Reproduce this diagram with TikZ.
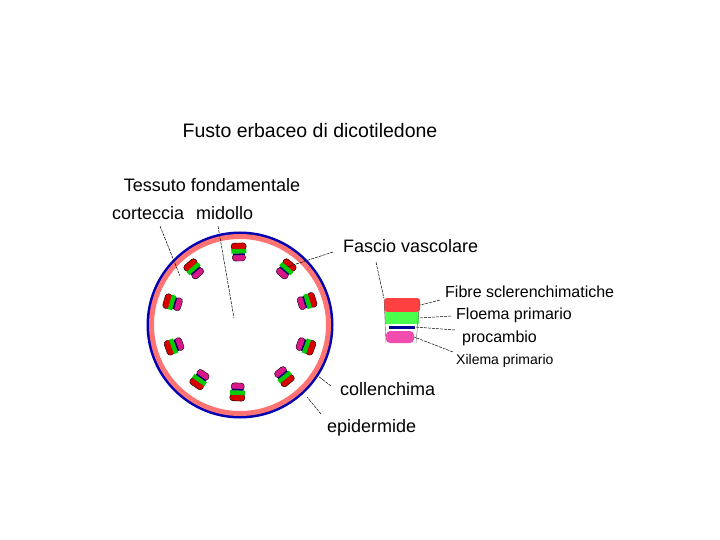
\documentclass[tikz,border=0pt]{standalone}
\usepackage{fontspec}
\setmainfont{Liberation Sans}
\begin{document}
\begin{tikzpicture}[x=1pt,y=-1pt,
  lbl/.style={font=\fontsize{18}{20}\selectfont,inner sep=0pt},
  lead/.style={black,line width=0.5pt,dash pattern=on 3pt off 1pt},
  red/.style={fill=red!85!black}, grn/.style={fill=green!80!black}, mag/.style={fill=magenta!80!violet}]
\useasboundingbox (0,0) rectangle (720,540);
% stem
\draw[blue!70!black,line width=3pt] (240,325) circle (92);
\draw[red!55!white,line width=5pt] (240,325) circle (88.5);
% bundles
\foreach \a in {92,51,20,-17,-49,-91,-131,-164,160,125}{
  \begin{scope}[shift={(240,322)},rotate=-\a]
   \begin{scope}[shift={(70,0)}]
    \draw[black,line width=0.4pt,mag,rounded corners=3pt] (-9,-6.5) rectangle (-2,6.5);
    \draw[black,line width=0.4pt,red,rounded corners=3pt] (2,-7.5) rectangle (9,7.5);
    \fill[grn] (-1.5,-7.5) rectangle (3,7.5);
    \fill[blue!40!black] (-3,-6) rectangle (-1.5,6);
   \end{scope}
  \end{scope}}
% detailed bundle
\node[fill=red!75,minimum width=36,minimum height=14,inner sep=0,rounded corners=3pt] (fib) at (402,305) {};
\node[fill=green!70,minimum width=34,minimum height=12,inner sep=0] (flo) at (402,318) {};
\node[fill=blue!60!black,minimum width=26,minimum height=3,inner sep=0] (pro) at (402,327) {};
\node[fill=magenta!70,minimum width=28,minimum height=12,inner sep=0,rounded corners=4pt] (xil) at (400,337) {};
\draw[black!60,line width=0.4pt] (384,298) -- (386,343) (420,298) -- (416,343);
% texts
\node[lbl,font=\fontsize{19.5}{22}\selectfont] (t) at (310,131) {Fusto erbaceo di dicotiledone};
\node[lbl] (tf) at (212,185) {Tessuto fondamentale};
\node[lbl,anchor=west] (cor) at (112,213) {corteccia};
\node[lbl,anchor=west] (mid) at (196,213) {midollo};
\node[lbl,anchor=west] (fv) at (343,246) {Fascio vascolare};
\node[lbl,anchor=west,font=\fontsize{16}{18}\selectfont] (fs) at (445,292) {Fibre sclerenchimatiche};
\node[lbl,anchor=west,font=\fontsize{16}{18}\selectfont] (fp) at (456,315) {Floema primario};
\node[lbl,anchor=west,font=\fontsize{16}{18}\selectfont] (pc) at (462,338) {procambio};
\node[lbl,anchor=west,font=\fontsize{14}{16}\selectfont] (xp) at (456,361) {Xilema primario};
\node[lbl,anchor=west] (co) at (340,389) {collenchima};
\node[lbl,anchor=west] (ep) at (327,428) {epidermide};
% leaders
\coordinate (c1) at (180,276); \coordinate (m1) at (234,318);
\coordinate (f1) at (287,267);
\draw[lead] (160,226) -- (c1);
\draw[lead] (218,226) -- (m1);
\draw[lead] (333,252) -- (f1);
\draw[lead] (376,262) -- (fib.north west);
\draw[lead] (440,300) -- (fib.east);
\draw[lead] (451,316) -- (flo.east);
\draw[lead] (455,330) -- (pro.east);
\draw[lead] (453,352) -- (xil.east);
\coordinate (k1) at (318,376); \coordinate (e1) at (307,397);
\draw[lead] (331,386) -- (k1);
\draw[lead] (321,414) -- (e1);
\end{tikzpicture}
\end{document}
